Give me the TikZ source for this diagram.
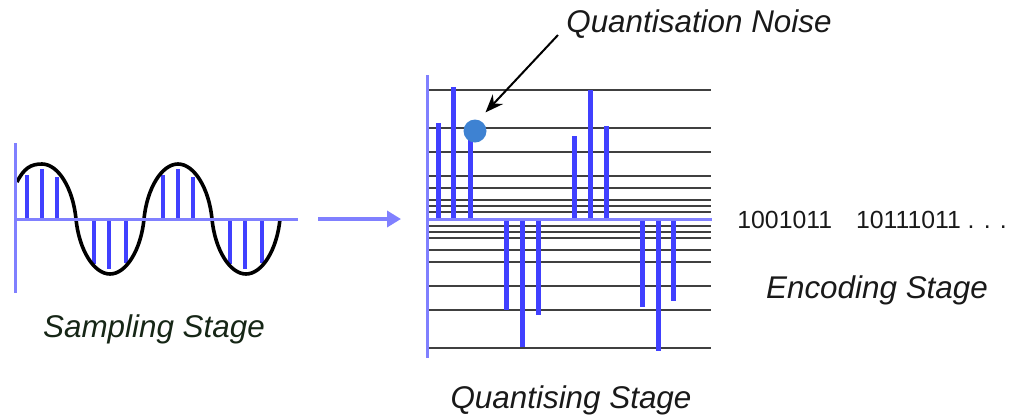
\documentclass[tikz,border=0pt]{standalone}
\usepackage{fontspec}
\setmainfont{Liberation Sans}
\usetikzlibrary{arrows.meta}

\definecolor{axisblue}{RGB}{128,128,255}
\definecolor{barblue}{RGB}{64,64,255}
\definecolor{dotblue}{RGB}{62,130,210}
\definecolor{labelgreen}{RGB}{22,38,22}

\begin{document}
\begin{tikzpicture}[x=0.5pt,y=-0.5pt,
		axis/.style={axisblue,line width=1.5pt},
		level/.style={black!75,line width=0.8pt},
		sample/.style={barblue,line width=2pt},
		qsample/.style={barblue,line width=2.5pt},
		wave/.style={black,line width=1.8pt},
		stage/.style={font=\fontsize{15.7pt}{19pt}\selectfont\itshape,
				text=black!90,inner sep=0pt,anchor=base},
		bits/.style={font=\fontsize{12.4pt}{15pt}\selectfont,
				text=black!90,inner sep=0pt,anchor=base west}]

	\useasboundingbox (0,0) rectangle (1019,419);

	% sampling stage
	\foreach \x/\y in {27/175,42/169,57/177,94/264,109/269,126/263}
		\foreach \s in {0,136}
			\draw[sample] (\x+\s,219) -- (\x+\s,\y);
	\draw[wave] (17,182) .. controls (24,168) and (31,164) .. (42,164)
		.. controls (58,164) and (73,188) .. (76,219)
		.. controls (79,250) and (94,274) .. (110,274)
		.. controls (126,274) and (141,250) .. (144,219)
		.. controls (147,188) and (162,164) .. (178,164)
		.. controls (194,164) and (209,188) .. (212,219)
		.. controls (215,250) and (230,274) .. (246,274)
		.. controls (262,274) and (277,250) .. (280,219);
	\draw[axis] (15,143) -- (15,293);
	\draw[axis] (15,219) -- (298,219);
	\node[stage,text=labelgreen] (sampling) at (154,337) {Sampling Stage};

	% stage arrow
	\coordinate (sampout) at (318,219);
	\coordinate (quantin) at (401,219);
	\draw[axis,line width=2pt,-{Triangle[length=7pt,width=8pt]}] (sampout) -- (quantin);

	% quantising stage
	\foreach \d in {7,13,19,31,43,67,91,129}
		\draw[level] (428,219-\d) -- (711,219-\d) (428,219+\d) -- (711,219+\d);
	\foreach \x/\y in {438/123,453/87,470/136,506/310,522/347,538/315,
			574/136,590/90,606/126,642/307,658/351,673/301}
		\draw[qsample] (\x,219) -- (\x,\y);
	\draw[axis] (427,75) -- (427,358);
	\draw[axis] (427,219) -- (712,219);
	\node[circle,fill=dotblue,minimum size=11.5pt,inner sep=0pt] (noise) at (475,131) {};
	\node[stage] (noiselabel) at (699,32) {Quantisation Noise};
	\coordinate (noisetail) at (558,35);
	\draw[line width=1pt,shorten >=5pt,-{Stealth[length=9pt,width=7pt]}] (noisetail) -- (noise.72);
	\node[stage] (quantising) at (571,408) {Quantising Stage};

	% encoding stage
	\node[bits] (code) at (737,228) {1001011\hspace{12pt}10111011 . . .};
	\node[stage] (encoding) at (877,298) {Encoding Stage};

\end{tikzpicture}
\end{document}
